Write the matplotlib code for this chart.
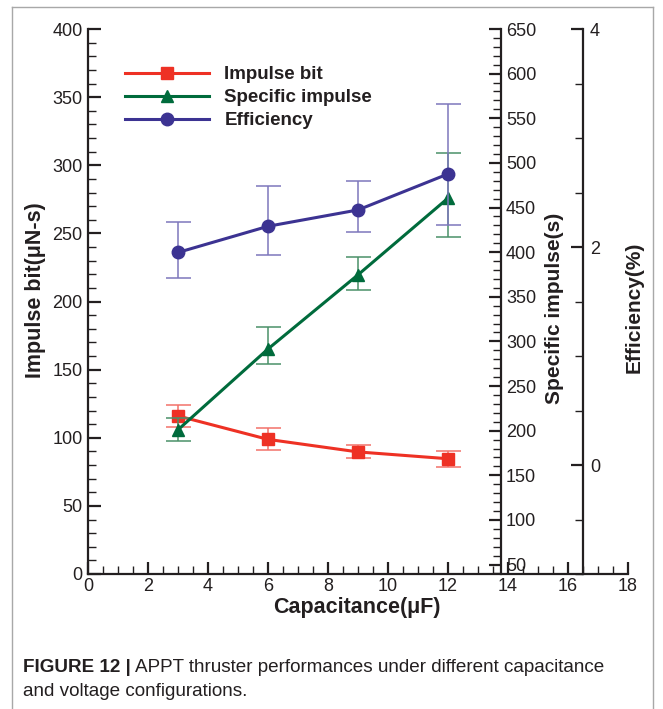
import matplotlib
matplotlib.use("Agg")
import matplotlib.pyplot as plt
from matplotlib.lines import Line2D
from matplotlib.ticker import MultipleLocator

plt.rcParams['font.family'] = ['Liberation Sans', 'DejaVu Sans']

# values
capacitance = [3, 6, 9, 12]
impulse_bit = [116, 98.8, 89.6, 84.6]
impulse_bit_err = [7.9, 8.0, 4.8, 6.0]
specific_impulse = [201, 291.5, 374.6, 460.5]
si_err_low = [12.2, 17.1, 16.9, 43.3]
si_err_high = [13.2, 24.4, 19.8, 50.8]
efficiency = [1.95, 2.19, 2.34, 2.67]
eff_err_low = [0.23, 0.26, 0.20, 0.47]
eff_err_high = [0.275, 0.37, 0.27, 0.64]

red, green, blue = "#EE3124", "#006B3C", "#3C3392"
red_e, green_e, blue_e = "#F2726A", "#4A9168", "#7D77BC"
ink = "#231F20"

W, H = 663, 709
fig = plt.figure(figsize=(W / 100, H / 100), dpi=100)
ax = fig.add_axes([88 / W, 1 - 574 / H, 540 / W, 545 / H])
ax2 = ax.twinx()
ax3 = ax.twinx()

# impulse bit on the left axis
ax.errorbar(capacitance, impulse_bit, yerr=impulse_bit_err, fmt='none',
            ecolor=red_e, elinewidth=1.1, capsize=9, capthick=1.1, zorder=2)
ax.plot(capacitance, impulse_bit, color=red, lw=2.2, marker='s', ms=8.5, zorder=3)

ax2.errorbar(capacitance, specific_impulse, yerr=[si_err_low, si_err_high], fmt='none',
             ecolor=green_e, elinewidth=1.1, capsize=9, capthick=1.1, zorder=2)
ax2.plot(capacitance, specific_impulse, color=green, lw=2.2, marker='^', ms=9, zorder=3)

ax3.errorbar(capacitance, efficiency, yerr=[eff_err_low, eff_err_high], fmt='none',
             ecolor=blue_e, elinewidth=1.1, capsize=9, capthick=1.1, zorder=2)
ax3.plot(capacitance, efficiency, color=blue, lw=2.2, marker='o', ms=9, zorder=3)

ax.set_xlim(0, 18)
ax.set_ylim(0, 400)
ax3.set_ylim(-1, 4)

for a in (ax, ax2, ax3):
    for s in a.spines.values():
        s.set_visible(False)
        s.set_linewidth(1.6)
        s.set_color(ink)
ax.spines['left'].set_visible(True)
ax.spines['bottom'].set_visible(True)
ax2.spines['right'].set_visible(True)
ax2.spines['right'].set_position(('axes', 13.75 / 18))
ax3.spines['right'].set_visible(True)
ax3.spines['right'].set_position(('axes', 16.5 / 18))

ax.xaxis.set_major_locator(MultipleLocator(2))
ax.xaxis.set_minor_locator(MultipleLocator(0.5))
ax.yaxis.set_major_locator(MultipleLocator(50))
ax.yaxis.set_minor_locator(MultipleLocator(10))
ax2.yaxis.set_minor_locator(MultipleLocator(10))
ax3.yaxis.set_major_locator(MultipleLocator(2))
ax3.yaxis.set_minor_locator(MultipleLocator(0.5))

for a in (ax, ax2, ax3):
    a.tick_params(which='major', direction='in', length=9, width=1.6, color=ink,
                  labelsize=13, labelcolor=ink, pad=4)
    a.tick_params(which='minor', direction='in', length=5.5, width=1.0, color=ink)
ax.tick_params(axis='x', pad=3)
ax2.set_yticks(range(50, 651, 50))
ax2.set_ylim(39.4, 650)
ax3.set_yticks([0, 2, 4])
ax3.set_ylim(-1, 4)
ax3.tick_params(axis='y', pad=5)

# axis labels
lab = dict(fontweight='bold', color=ink, ha='center', va='center')
fig.text(357 / W, 1 - 607 / H, "Capacitance(μF)", fontsize=15.5, **lab)
fig.text(36 / W, 1 - 290 / H, "Impulse bit(μN-s)", rotation=90, fontsize=15.5, **lab)
fig.text(555 / W, 1 - 308 / H, "Specific impulse(s)", rotation=90, fontsize=15, **lab)
fig.text(634 / W, 1 - 307 / H, "Efficiency(%)", rotation=90, fontsize=15, **lab)

handles = [Line2D([], [], color=red, lw=2.2, marker='s', ms=8.5),
           Line2D([], [], color=green, lw=2.2, marker='^', ms=9),
           Line2D([], [], color=blue, lw=2.2, marker='o', ms=9)]
leg = fig.legend(handles, ["Impulse bit", "Specific impulse", "Efficiency"],
                 loc='upper left', bbox_to_anchor=(125 / W, 1 - 66 / H),
                 frameon=False, borderpad=0, borderaxespad=0, handlelength=4.5,
                 handletextpad=0.8, labelspacing=0.32,
                 prop={'weight': 'bold', 'size': 13.5})
for t in leg.get_texts():
    t.set_color(ink)

# panel border
fig.add_artist(Line2D([12 / W, 12 / W], [0, 1 - 7 / H], color="#A8A8A8", lw=1))
fig.add_artist(Line2D([12 / W, 653 / W], [1 - 7 / H, 1 - 7 / H], color="#A8A8A8", lw=1))
fig.add_artist(Line2D([653 / W, 653 / W], [0, 1 - 7 / H], color="#A8A8A8", lw=1))

# caption
cap_size = 13.6
t1 = fig.text(23 / W, 1 - 668 / H, "FIGURE 12 |", fontsize=cap_size, fontweight='bold',
              color=ink, va='center')
r = fig.canvas.get_renderer()
bb = t1.get_window_extent(renderer=r)
fig.text(bb.x1 / W + 4 / W, 1 - 668 / H,
         "APPT thruster performances under different capacitance",
         fontsize=cap_size, color=ink, va='center')
fig.text(23 / W, 1 - 692 / H, "and voltage configurations.", fontsize=cap_size,
         color=ink, va='center')

fig.savefig("out.png", dpi=100)
